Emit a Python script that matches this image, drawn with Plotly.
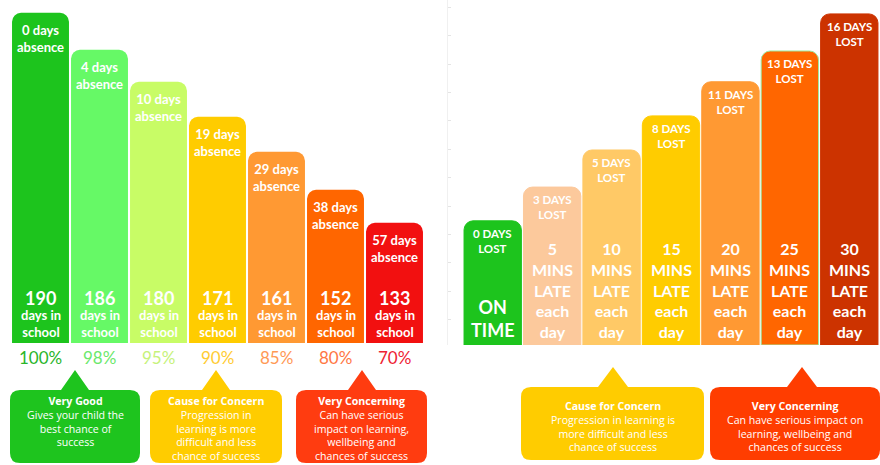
import plotly.graph_objects as go

W, H = 880, 465
FONT = "Lato"
BFONT = "Open Sans"

# ---------------- data ----------------
absence_days = [0, 4, 10, 19, 29, 38, 57]
school_days = [190, 186, 180, 171, 161, 152, 133]
attendance_pct = [100, 98, 95, 90, 85, 80, 70]
left_height = [100, 88.8, 79.1, 68.5, 57.9, 46.4, 36.4]   # relative bar height (infographic scale)
left_colors = ["#1DC41D", "#66F966", "#C8FC66", "#FFCC00", "#FF9933", "#FF6600", "#F21010"]
pct_colors = ["#2AB52A", "#6BE86B", "#C6F27A", "#FFCC33", "#FF9955", "#FF7744", "#EE2233"]

mins_late = [0, 5, 10, 15, 20, 25, 30]
days_lost = [0, 3, 5, 8, 11, 13, 16]
right_height = [37.5, 47.7, 58.9, 69.2, 79.5, 88.8, 100]  # relative bar height (infographic scale)
right_colors = ["#1DC41D", "#FCC99C", "#FFC966", "#FFCC00", "#FF9933", "#FF6600", "#CC3300"]
right_lines = ["#1DC41D", "#FCC99C", "#FFC966", "#FFCC00", "#FF9933", "#9EE89E", "#CC3300"]

left_bubbles = [
    ("Very Good", ["Gives your child the", "best chance of", "success"], "#1EC41E"),
    ("Cause for Concern", ["Progression in", "learning is more", "difficult and less", "chance of success"], "#FFCC00"),
    ("Very Concerning", ["Can have serious", "impact on learning,", "wellbeing and", "chances of success"], "#FF3C10"),
]
right_bubbles = [
    ("Cause for Concern", ["Progression in learning is", "more difficult and less", "chance of success"], "#FFCC00"),
    ("Very Concerning", ["Can have serious impact on", "learning, wellbeing and", "chances of success"], "#FF3D00"),
]
guide_ticks = list(range(12))  # faint decorative guide axis ticks (right panel)


def px(x):
    return x / W


def py(y):
    return 1 - y / H


fig = go.Figure()
idx = list(range(len(left_height)))
fig.add_trace(go.Bar(x=idx, y=left_height, marker=dict(color=left_colors, line=dict(width=0)),
                     xaxis="x", yaxis="y", hoverinfo="skip", showlegend=False))
fig.add_trace(go.Bar(x=idx, y=right_height, marker=dict(color=right_colors, line=dict(color=right_lines, width=1)),
                     xaxis="x2", yaxis="y2", hoverinfo="skip", showlegend=False))
fig.add_trace(go.Scatter(x=[None], y=[None], xaxis="x2", yaxis="y3", hoverinfo="skip", showlegend=False))

ann = []
white = "white"
for i in idx:
    ann.append(dict(x=i, y=left_height[i], xref="x", yref="y", yanchor="top", yshift=-7,
                    text=f"<b>{absence_days[i]} days<br>absence</b>", showarrow=False,
                    font=dict(family=FONT, size=13, color=white)))
    ann.append(dict(x=i, y=0, xref="x", yref="y", yanchor="bottom", yshift=32,
                    text=f"<b>{school_days[i]}</b>", showarrow=False,
                    font=dict(family=FONT, size=18, color=white)))
    ann.append(dict(x=i, y=0, xref="x", yref="y", yanchor="bottom", yshift=1,
                    text="<b>days in<br>school</b>", showarrow=False,
                    font=dict(family=FONT, size=13, color=white)))
    ann.append(dict(x=i, y=0, xref="x", yref="y", yanchor="top", yshift=-2,
                    text=f"{attendance_pct[i]}%", showarrow=False,
                    font=dict(family=FONT, size=17, color=pct_colors[i])))

    ann.append(dict(x=i, y=right_height[i], xref="x2", yref="y2", yanchor="top", yshift=-4,
                    text=f"<b>{days_lost[i]} DAYS<br>LOST</b>", showarrow=False,
                    font=dict(family=FONT, size=11.5, color=white)))
    if mins_late[i] == 0:
        txt = "<b>ON<br>TIME</b>"
        fs = 18
    else:
        txt = f"<b>{mins_late[i]}<br>MINS<br>LATE<br>each<br>day</b>"
        fs = 16
    ann.append(dict(x=i, y=0, xref="x2", yref="y2", yanchor="bottom", yshift=2,
                    text=txt, showarrow=False, font=dict(family=FONT, size=fs, color=white)))


def bubble(x0, y0, x1, y1, ax, ay, half, r=10):
    pts = [
        f"M {px(x0 + r)},{py(y0)}",
        f"L {px(ax - half)},{py(y0)}",
        f"L {px(ax)},{py(ay)}",
        f"L {px(ax + half)},{py(y0)}",
        f"L {px(x1 - r)},{py(y0)}",
        f"Q {px(x1)},{py(y0)} {px(x1)},{py(y0 + r)}",
        f"L {px(x1)},{py(y1 - r)}",
        f"Q {px(x1)},{py(y1)} {px(x1 - r)},{py(y1)}",
        f"L {px(x0 + r)},{py(y1)}",
        f"Q {px(x0)},{py(y1)} {px(x0)},{py(y1 - r)}",
        f"L {px(x0)},{py(y0 + r)}",
        f"Q {px(x0)},{py(y0)} {px(x0 + r)},{py(y0)}",
        "Z",
    ]
    return " ".join(pts)


def bubble_text(cx, y_top, title, lines):
    return dict(x=px(cx), y=py(y_top), xref="paper", yref="paper", xanchor="center", yanchor="top",
                showarrow=False, text="<b>" + title + "</b><br>" + "<br>".join(lines),
                font=dict(family=BFONT, size=10.6, color=white))


shapes = []
left_geom = [(10, 140, 75), (150, 282, 216), (296, 427, 362)]
for (title, lines, col), (x0, x1, ax) in zip(left_bubbles, left_geom):
    shapes.append(dict(type="path", path=bubble(x0, 390, x1, 463, ax, 370, 14), xref="paper", yref="paper",
                       fillcolor=col, line=dict(width=0), layer="below"))
    ann.append(bubble_text((x0 + x1) / 2, 392, title, lines))

right_geom = [(521, 704, 613), (710, 880, 802)]
for (title, lines, col), (x0, x1, ax) in zip(right_bubbles, right_geom):
    shapes.append(dict(type="path", path=bubble(x0, 387, x1, 460, ax, 367, 15), xref="paper", yref="paper",
                       fillcolor=col, line=dict(width=0), layer="below"))
    ann.append(bubble_text((x0 + x1) / 2, 397, title, lines))

px_per_tick = 38.3
first_tick_px = 431
fig.update_layout(
    width=W, height=H, margin=dict(l=0, r=0, t=0, b=0),
    paper_bgcolor="white", plot_bgcolor="white",
    barcornerradius=9, bargap=0.035, showlegend=False,
    xaxis=dict(domain=[px(11), px(424)], range=[-0.5, 6.5], visible=False, fixedrange=True),
    yaxis=dict(domain=[py(343), 1], range=[0, 103.9], visible=False, fixedrange=True),
    xaxis2=dict(domain=[px(463), px(879)], range=[-0.5, 6.5], visible=False, anchor="y2", fixedrange=True),
    yaxis2=dict(domain=[py(345), 1], range=[0, 104.2], visible=False, anchor="x2", fixedrange=True),
    yaxis3=dict(domain=[0, 1], overlaying="y2", anchor="free", position=px(447), side="left",
                range=[-(H - first_tick_px) / px_per_tick, first_tick_px / px_per_tick],
                tickvals=guide_ticks, ticks="inside", ticklen=3, tickcolor="#E4E4E4",
                showline=True, linecolor="#F0F0F0", linewidth=1, showticklabels=False,
                showgrid=False, zeroline=False, fixedrange=True),
    annotations=ann, shapes=shapes,
)

fig.write_html("out.html", config={"displayModeBar": False},
               post_script="document.body.style.margin='0';document.body.style.overflow='hidden';")
